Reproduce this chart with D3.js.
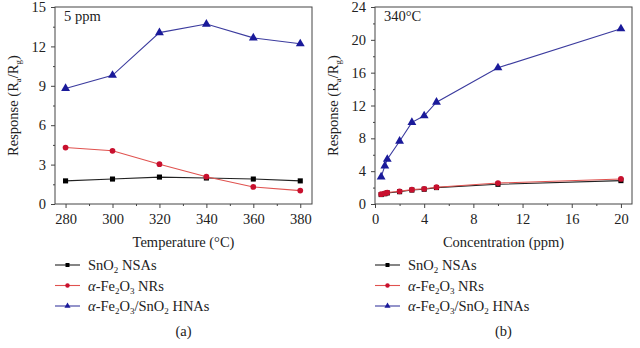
<!DOCTYPE html>
<html>
<head>
<meta charset="utf-8">
<script src="https://cdn.jsdelivr.net/npm/d3@7"></script>
<style>
  body { margin: 0; background: #fff; }
  text { font-family: "Liberation Serif", "DejaVu Serif", serif; fill: #222; }
</style>
</head>
<body>
<script>
// panel (a): response vs temperature at 5 ppm
const temps = [280, 300, 320, 340, 360, 380];
const tempSnO2 = [1.76, 1.9, 2.05, 1.98, 1.9, 1.76];
const tempFe2O3 = [4.3, 4.05, 3.03, 2.08, 1.3, 1.02];
const tempHNAs = [8.8, 9.8, 13.05, 13.7, 12.65, 12.2];

// panel (b): response vs concentration at 340 C
const concs = [0.5, 0.8, 1, 2, 3, 4, 5, 10, 20];
const concSnO2 = [1.15, 1.25, 1.35, 1.5, 1.7, 1.8, 2.0, 2.4, 2.85];
const concFe2O3 = [1.2, 1.3, 1.4, 1.55, 1.75, 1.85, 2.05, 2.55, 3.05];
const concHNAs = [3.3, 4.65, 5.45, 7.65, 9.95, 10.75, 12.4, 16.6, 21.35];

const yTicksA = [0, 3, 6, 9, 12, 15];
const yTicksB = [0, 4, 8, 12, 16, 20, 24];
const xTicksA = [280, 300, 320, 340, 360, 380];
const xTicksB = [0, 4, 8, 12, 16, 20];

const seriesStyle = [
  {name: 'SnO2', line: '#222', fill: '#000', shape: d3.symbolSquare},
  {name: 'Fe2O3', line: '#e0524f', fill: '#c8102e', shape: d3.symbolCircle},
  {name: 'HNAs', line: '#3b3b9e', fill: '#1a1a9a', shape: d3.symbolTriangle}
];

const svg = d3.select('body').append('svg')
  .attr('width', 640)
  .attr('height', 348);

// writes text parts, [string, kind], into a text element
// kind: 0 normal, 1 subscript, 2 italic
const richText = (t, parts) => {
  let low = false;
  parts.forEach((p) => {
    const sp = t.append('tspan').text(p[0]);
    if (p[1] === 1) {
      sp.style('font-size', '9px').attr('dy', low ? 0 : 3);
      low = true;
    } else {
      sp.attr('dy', low ? -3 : 0);
      if (p[1] === 2) sp.style('font-style', 'italic');
      low = false;
    }
  });
};

const drawPanel = (opt) => {
  const g = svg.append('g');
  const x = d3.scaleLinear().domain(opt.xDomain).range([opt.left, opt.right]);
  const y = d3.scaleLinear().domain(opt.yDomain).range([opt.bottom, opt.top]);

  // frame
  g.append('rect')
    .attr('x', opt.left).attr('y', opt.top)
    .attr('width', opt.right - opt.left).attr('height', opt.bottom - opt.top)
    .attr('fill', 'none').attr('stroke', '#444').attr('stroke-width', 1);

  // minor ticks
  g.append('g')
    .attr('transform', `translate(0,${opt.bottom})`)
    .call(d3.axisBottom(x).tickValues(opt.xMinor).tickSize(2).tickFormat(''))
    .call((s) => s.select('.domain').remove());
  g.append('g')
    .attr('transform', `translate(${opt.left},0)`)
    .call(d3.axisLeft(y).tickValues(opt.yMinor).tickSize(2).tickFormat(''))
    .call((s) => s.select('.domain').remove());

  // major ticks
  const xa = g.append('g')
    .attr('transform', `translate(0,${opt.bottom})`)
    .call(d3.axisBottom(x).tickValues(opt.xTicks).tickSize(4).tickPadding(6));
  const ya = g.append('g')
    .attr('transform', `translate(${opt.left},0)`)
    .call(d3.axisLeft(y).tickValues(opt.yTicks).tickSize(4).tickPadding(5));
  [xa, ya].forEach((a) => {
    a.select('.domain').remove();
    a.selectAll('text').style('font-family', '"Liberation Serif", serif').style('font-size', '14.5px').attr('fill', '#222');
  });
  g.selectAll('.tick line').attr('stroke', '#444');

  // series
  const line = d3.line().x((d) => x(d[0])).y((d) => y(d[1]));
  opt.series.forEach((vals, i) => {
    const st = seriesStyle[i];
    const pts = opt.xs.map((v, j) => [v, vals[j]]);
    g.append('path')
      .attr('d', line(pts))
      .attr('fill', 'none')
      .attr('stroke', st.line)
      .attr('stroke-width', 1.1);
    g.selectAll(null)
      .data(pts)
      .enter().append('path')
      .attr('transform', (d) => `translate(${x(d[0])},${y(d[1])})`)
      .attr('d', d3.symbol().type(st.shape).size(st.shape === d3.symbolTriangle ? 34 : 26))
      .attr('fill', st.fill);
  });

  // in-plot note
  g.append('text')
    .attr('x', opt.left + 9).attr('y', opt.top + 14)
    .style('font-size', '14.5px')
    .text(opt.note);

  // axis titles
  const cx = (opt.left + opt.right) / 2;
  g.append('text')
    .attr('x', cx).attr('y', 247)
    .attr('text-anchor', 'middle')
    .style('font-size', '14.5px')
    .text(opt.xTitle);

  const yt = g.append('text')
    .attr('transform', `translate(${opt.left - 37},${(opt.top + opt.bottom) / 2}) rotate(-90)`)
    .attr('text-anchor', 'middle')
    .style('font-size', '14.5px');
  richText(yt, [['Response (R', 0], ['a', 1], ['/R', 0], ['g', 1], [')', 0]]);

  // legend
  const labels = [
    [['SnO', 0], ['2', 1], [' NSAs', 0]],
    [['α', 2], ['-Fe', 0], ['2', 1], ['O', 0], ['3', 1], [' NRs', 0]],
    [['α', 2], ['-Fe', 0], ['2', 1], ['O', 0], ['3', 1], ['/SnO', 0], ['2', 1], [' HNAs', 0]]
  ];
  labels.forEach((parts, i) => {
    const st = seriesStyle[i];
    const ly = 265 + i * 20.5;
    const lx = opt.left;
    g.append('line')
      .attr('x1', lx).attr('x2', lx + 25)
      .attr('y1', ly).attr('y2', ly)
      .attr('stroke', st.line).attr('stroke-width', 1.1);
    g.append('path')
      .attr('transform', `translate(${lx + 12.5},${ly})`)
      .attr('d', d3.symbol().type(st.shape).size(16))
      .attr('fill', st.fill);
    const t = g.append('text')
      .attr('x', lx + 33).attr('y', ly + 5)
      .style('font-size', '14.5px');
    richText(t, parts);
  });

  g.append('text')
    .attr('x', cx).attr('y', 336)
    .attr('text-anchor', 'middle')
    .style('font-size', '14.5px')
    .text(opt.tag);
};

drawPanel({
  left: 55, right: 312, top: 7, bottom: 204,
  xDomain: [275.5, 385], yDomain: [0, 15],
  xTicks: xTicksA, yTicks: yTicksA,
  xMinor: [290, 310, 330, 350, 370],
  yMinor: [1.5, 4.5, 7.5, 10.5, 13.5],
  xs: temps, series: [tempSnO2, tempFe2O3, tempHNAs],
  note: '5 ppm', xTitle: 'Temperature (°C)', tag: '(a)'
});

drawPanel({
  left: 375, right: 632, top: 7, bottom: 204,
  xDomain: [0, 20.9], yDomain: [0, 24],
  xTicks: xTicksB, yTicks: yTicksB,
  xMinor: [2, 6, 10, 14, 18],
  yMinor: [2, 6, 10, 14, 18, 22],
  xs: concs, series: [concSnO2, concFe2O3, concHNAs],
  note: '340°C', xTitle: 'Concentration (ppm)', tag: '(b)'
});
</script>
</body>
</html>
